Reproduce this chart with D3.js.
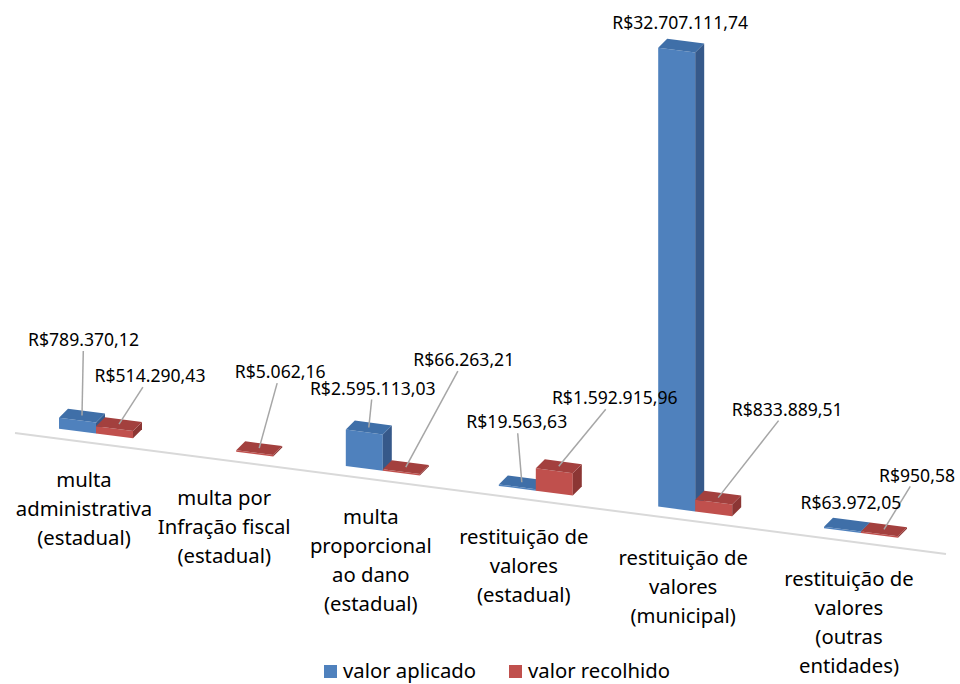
<!DOCTYPE html>
<html>
<head>
<meta charset="utf-8">
<script src="https://cdn.jsdelivr.net/npm/d3@7"></script>
<style>
  body { margin: 0; background: #fff; }
  text { font-family: "Noto Sans", sans-serif; fill: #000; }
</style>
</head>
<body>
<svg id="chart" width="960" height="684"></svg>
<script>
const categories = [
  ["multa", "administrativa", "(estadual)"],
  ["multa por", "Infração fiscal", "(estadual)"],
  ["multa", "proporcional", "ao dano", "(estadual)"],
  ["restituição de", "valores", "(estadual)"],
  ["restituição de", "valores", "(municipal)"],
  ["restituição de", "valores", "(outras", "entidades)"]
];
const valorAplicado = [789370.12, null, 2595113.03, 19563.63, 32707111.74, 63972.05];
const valorRecolhido = [514290.43, 5062.16, 66263.21, 1592915.96, 833889.51, 950.58];
const seriesNames = ["valor aplicado", "valor recolhido"];

// where each data label sits relative to the top of its bar
const labelOffsetAplicado = [[1.5, -75.5], null, [4, -39], [-5, -60], [-1, -23], [4, -22]];
const labelOffsetRecolhido = [[31, -48], [21, -76], [58, -107], [56, -68], [69, -88], [33, -54]];

const colors = {
  aplicado: { front: "#4F81BD", top: "#3F6FA8", side: "#36598A" },
  recolhido: { front: "#C0504D", top: "#A3403E", side: "#8C3634" }
};

const svg = d3.select("#chart");
const brl = d3.formatLocale({ decimal: ",", thousands: ".", grouping: [3], currency: ["R$", ""] }).format("$,.2f");

// category index -> position, then a small perspective stretch
const tScale = d3.scalePoint().domain(d3.range(categories.length)).range([0, categories.length - 1]);
const xCenter = i => { const t = tScale(i); return 96 + 137 * t + 3.2 * t * t; };
const barW = 37;
const depth = [9, -9];

const floorY = d3.scaleLinear().domain([15, 946]).range([433, 554]);
const baseY = x => floorY(x) - 10;
const hScale = d3.scaleLinear().domain([0, 35000000]).range([0, 491]);

// floor edge
svg.append("line")
  .attr("x1", 15).attr("y1", floorY(15))
  .attr("x2", 946).attr("y2", floorY(946))
  .attr("stroke", "#D9D9D9").attr("stroke-width", 2);

const bars = [];
categories.forEach((c, i) => {
  const xc = xCenter(i);
  if (valorAplicado[i] != null) bars.push({ v: valorAplicado[i], x0: xc - barW, x1: xc, col: colors.aplicado, off: labelOffsetAplicado[i] });
  if (valorRecolhido[i] != null) bars.push({ v: valorRecolhido[i], x0: xc, x1: xc + barW, col: colors.recolhido, off: labelOffsetRecolhido[i] });
});

const poly = pts => "M" + pts.map(p => p.join(",")).join("L") + "Z";
const gBars = svg.append("g");
bars.forEach(b => {
  const h = Math.max(1.5, hScale(b.v));
  const b0 = baseY(b.x0), b1 = baseY(b.x1);
  const [dx, dy] = depth;
  const g = gBars.append("g");
  g.append("path").attr("fill", b.col.front)
    .attr("d", poly([[b.x0, b0], [b.x1, b1], [b.x1, b1 - h], [b.x0, b0 - h]]));
  g.append("path").attr("fill", b.col.side)
    .attr("d", poly([[b.x1, b1], [b.x1 + dx, b1 + dy], [b.x1 + dx, b1 - h + dy], [b.x1, b1 - h]]));
  g.append("path").attr("fill", b.col.top)
    .attr("d", poly([[b.x0, b0 - h], [b.x1, b1 - h], [b.x1 + dx, b1 - h + dy], [b.x0 + dx, b0 - h + dy]]));
  const xm = (b.x0 + b.x1) / 2;
  b.anchor = [xm + dx / 2, baseY(xm) - h + dy / 2];
});

// data labels with leader lines
const gLab = svg.append("g");
bars.forEach(b => {
  const cx = b.anchor[0] + b.off[0], cy = b.anchor[1] + b.off[1];
  const t = gLab.append("text")
    .attr("x", cx).attr("y", cy).attr("dy", "0.35em")
    .attr("text-anchor", "middle")
    .style("font-size", "17.6px")
    .text(brl(b.v));
  const hw = t.node().getComputedTextLength() / 2 + 3, hh = 11;
  const ddx = cx - b.anchor[0], ddy = cy - b.anchor[1];
  const u = Math.min(Math.abs(ddx) > 0.01 ? hw / Math.abs(ddx) : 1e9, hh / Math.abs(ddy));
  const ex = cx - ddx * u, ey = cy - ddy * u;
  if (Math.hypot(ex - b.anchor[0], ey - b.anchor[1]) > 16) {
    gLab.insert("line", "text")
      .attr("x1", b.anchor[0]).attr("y1", b.anchor[1])
      .attr("x2", ex).attr("y2", ey)
      .attr("stroke", "#A6A6A6").attr("stroke-width", 1.5);
  }
});

// category labels
categories.forEach((lines, i) => {
  const x = xCenter(i) - 12;
  const y0 = floorY(x) + 45;
  const t = svg.append("text")
    .attr("text-anchor", "middle")
    .style("font-size", "20.3px");
  lines.forEach((l, k) => t.append("tspan").attr("x", x).attr("y", y0 + k * 29).text(l));
});

// legend
const legend = svg.append("g").attr("transform", "translate(324,665)");
const legendX = [0, 185];
seriesNames.forEach((name, k) => {
  const g = legend.append("g").attr("transform", `translate(${legendX[k]},0)`);
  g.append("rect").attr("width", 13).attr("height", 13)
    .attr("fill", k === 0 ? colors.aplicado.front : colors.recolhido.front);
  g.append("text").attr("x", 19).attr("y", 13).style("font-size", "20.3px").text(name);
});
</script>
</body>
</html>
